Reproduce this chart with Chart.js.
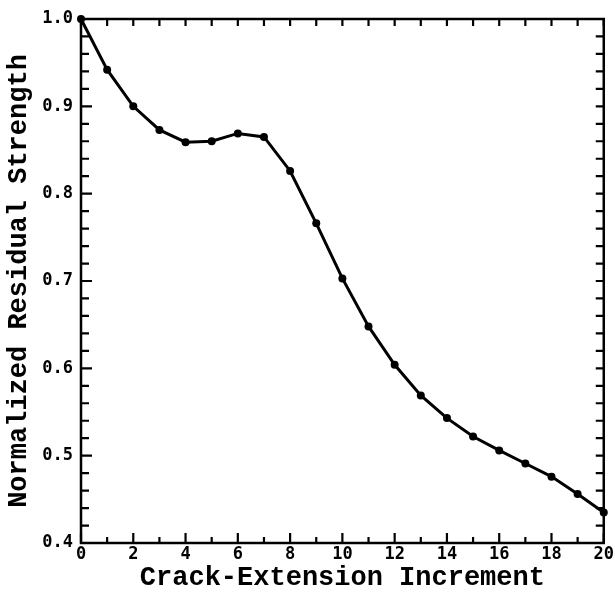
<!DOCTYPE html>
<html>
<head>
<meta charset="utf-8">
<script src="https://cdn.jsdelivr.net/npm/chart.js@4"></script>
<style>
  html, body { margin: 0; padding: 0; background: #fff; }
  #wrap { width: 615px; height: 593px; }
</style>
</head>
<body>
<div id="wrap"><canvas id="myChart" width="615" height="593"></canvas></div>
<script>
// crack-extension increment (x) and normalized residual strength (y)
const increments = [0, 1, 2, 3, 4, 5, 6, 7, 8, 9, 10, 11, 12, 13, 14, 15, 16, 17, 18, 19, 20];
const strength = [1.0, 0.942, 0.900, 0.873, 0.859, 0.860, 0.869, 0.865, 0.826, 0.766, 0.703,
  0.648, 0.604, 0.569, 0.543, 0.522, 0.506, 0.491, 0.476, 0.456, 0.435];
const xTickLabels = [0, 2, 4, 6, 8, 10, 12, 14, 16, 18, 20];
const yTickLabels = [0.4, 0.5, 0.6, 0.7, 0.8, 0.9, 1.0];

const points = increments.map((x, i) => ({ x: x, y: strength[i] }));

// frame + inward ticks on all four sides, drawn from the scales
const frameTicks = {
  id: 'frameTicks',
  afterDatasetsDraw(chart) {
    const { ctx, chartArea: a, scales } = chart;
    const xs = scales.x, ys = scales.y;
    ctx.save();
    ctx.strokeStyle = '#000';
    ctx.lineWidth = 2.5;
    ctx.strokeRect(a.left, a.top, a.right - a.left, a.bottom - a.top);
    ctx.lineWidth = 2.2;
    ctx.beginPath();
    for (let v = 0; v <= 20; v++) {
      const px = xs.getPixelForValue(v);
      const major = v % 2 === 0;
      ctx.moveTo(px, a.bottom);
      ctx.lineTo(px, a.bottom - (major ? 10 : 6));
      ctx.moveTo(px, a.top);
      ctx.lineTo(px, a.top + 7);
    }
    for (let i = 0; i <= 30; i++) {
      const v = 0.4 + i * 0.02;
      const py = ys.getPixelForValue(v);
      const major = i % 5 === 0;
      ctx.moveTo(a.left, py);
      ctx.lineTo(a.left + (major ? 11 : 8), py);
      ctx.moveTo(a.right, py);
      ctx.lineTo(a.right - 8, py);
    }
    ctx.stroke();
    ctx.restore();
  }
};

const tickFont = { family: 'DejaVu Sans Mono', weight: 'bold', size: 17 };
const titleFont = { family: 'Liberation Mono', weight: 'bold', size: 27, lineHeight: 1 };

const ctx = document.getElementById('myChart').getContext('2d');
const chart = new Chart(ctx, {
  type: 'line',
  data: {
    datasets: [
      {
        data: points,
        borderColor: '#000',
        backgroundColor: '#000',
        borderWidth: 3,
        pointRadius: 4,
        pointBackgroundColor: '#000',
        pointBorderWidth: 0,
        tension: 0,
        clip: false,
      },
    ],
  },
  options: {
    responsive: false,
    animation: false,
    layout: { padding: { top: 19, right: 11, left: 0, bottom: 0 } },
    plugins: { legend: { display: false }, tooltip: { enabled: false } },
    scales: {
      x: {
        type: 'linear',
        min: 0,
        max: 20,
        afterBuildTicks: (s) => { s.ticks = xTickLabels.map((v) => ({ value: v })); },
        afterFit: (s) => { s.height = 50; },
        grid: { display: false, drawTicks: false },
        border: { display: false },
        ticks: { color: '#000', font: tickFont, padding: 1, maxRotation: 0 },
        title: {
          display: true,
          text: 'Crack-Extension Increment',
          color: '#000',
          font: titleFont,
          padding: { top: 0, bottom: 1 },
        },
      },
      y: {
        min: 0.4,
        max: 1.0,
        afterBuildTicks: (s) => { s.ticks = yTickLabels.map((v) => ({ value: v })); },
        afterFit: (s) => { s.width = 81; },
        grid: { display: false, drawTicks: false },
        border: { display: false },
        ticks: { color: '#000', font: tickFont, padding: 8, callback: (v) => v.toFixed(1) },
        title: {
          display: true,
          text: 'Normalized Residual Strength',
          color: '#000',
          font: titleFont,
          padding: { top: 6, bottom: 0 },
        },
      },
    },
  },
  plugins: [frameTicks],
});
</script>
</body>
</html>
